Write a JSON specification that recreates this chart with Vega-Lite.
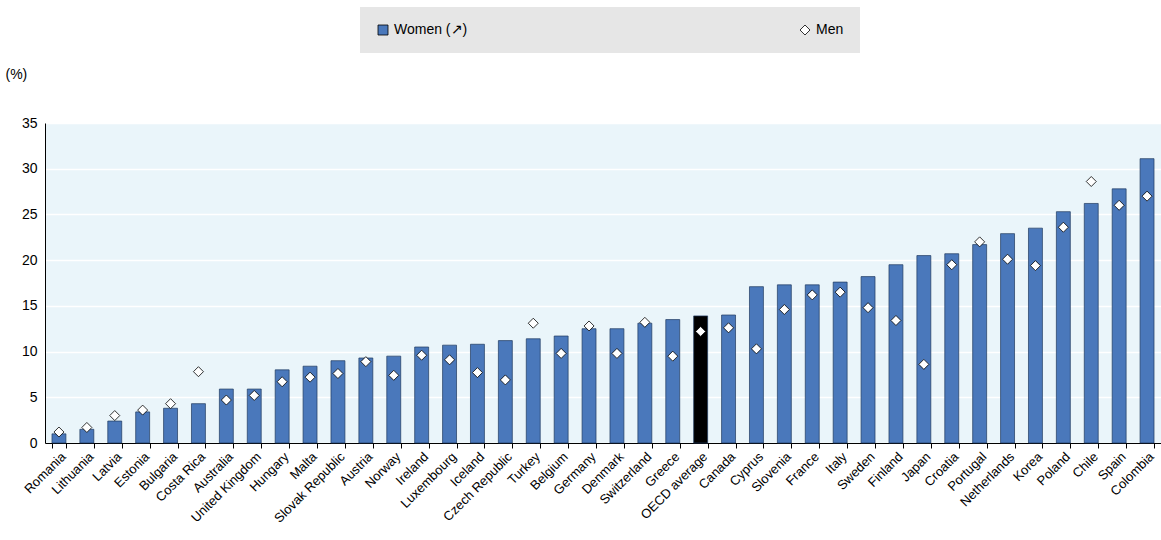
{
"$schema":"https://vega.github.io/schema/vega-lite/v6.json",
"width":1116,"height":320,
"autosize":"none",
"padding":{"left":45,"top":123,"right":0,"bottom":97},
"config":{"font":"Liberation Sans","view":{"fill":"#eaf5fa","stroke":null},
"axis":{"labelFont":"Liberation Sans","labelFontSize":13,"labelColor":"black","domainColor":"black","tickColor":"black"}},
"data":{"values":[
{"c":"Romania","w":1.0,"m":1.2},{"c":"Lithuania","w":1.5,"m":1.7},{"c":"Latvia","w":2.4,"m":3.0},{"c":"Estonia","w":3.4,"m":3.6},{"c":"Bulgaria","w":3.8,"m":4.3},{"c":"Costa Rica","w":4.3,"m":7.8},{"c":"Australia","w":5.9,"m":4.7},{"c":"United Kingdom","w":5.9,"m":5.2},{"c":"Hungary","w":8.0,"m":6.7},{"c":"Malta","w":8.4,"m":7.2},{"c":"Slovak Republic","w":9.0,"m":7.6},{"c":"Austria","w":9.3,"m":8.9},{"c":"Norway","w":9.5,"m":7.4},{"c":"Ireland","w":10.5,"m":9.6},{"c":"Luxembourg","w":10.7,"m":9.1},{"c":"Iceland","w":10.8,"m":7.7},{"c":"Czech Republic","w":11.2,"m":6.9},{"c":"Turkey","w":11.4,"m":13.1},{"c":"Belgium","w":11.7,"m":9.8},{"c":"Germany","w":12.5,"m":12.8},{"c":"Denmark","w":12.5,"m":9.8},{"c":"Switzerland","w":13.1,"m":13.2},{"c":"Greece","w":13.5,"m":9.5},{"c":"OECD average","w":13.9,"m":12.2},{"c":"Canada","w":14.0,"m":12.6},{"c":"Cyprus","w":17.1,"m":10.3},{"c":"Slovenia","w":17.3,"m":14.6},{"c":"France","w":17.3,"m":16.2},{"c":"Italy","w":17.6,"m":16.5},{"c":"Sweden","w":18.2,"m":14.8},{"c":"Finland","w":19.5,"m":13.4},{"c":"Japan","w":20.5,"m":8.6},{"c":"Croatia","w":20.7,"m":19.5},{"c":"Portugal","w":21.7,"m":22.0},{"c":"Netherlands","w":22.9,"m":20.1},{"c":"Korea","w":23.5,"m":19.4},{"c":"Poland","w":25.3,"m":23.6},{"c":"Chile","w":26.2,"m":28.6},{"c":"Spain","w":27.8,"m":26.0},{"c":"Colombia","w":31.1,"m":27.0}
]},
"encoding":{"x":{"field":"c","type":"nominal","sort":null,"title":null,"scale":{"paddingInner":0.5,"paddingOuter":0.25},"axis":{"labelAngle":-45,"labelAlign":"right","labelBaseline":"top","ticks":true,"tickBand":"extent","labelPadding":2}}},
"layer":[
{"mark":{"type":"bar","stroke":"#1f3a5f","strokeWidth":0.7},
"encoding":{"y":{"field":"w","type":"quantitative","title":"(%)","scale":{"domain":[0,35]},"axis":{"values":[0,5,10,15,20,25,30,35],"grid":true,"gridColor":"white","gridWidth":1.5,"domain":true,"ticks":false,"labelPadding":8,"labelFontSize":14,"titleAngle":0,"titleAlign":"left","titleX":-40,"titleY":-42,"titleFontWeight":"normal","titleFontSize":14,"titleFont":"Liberation Sans"}},
"color":{"condition":{"test":"datum.c==='OECD average'","value":"black"},"datum":"Women (↗)","type":"nominal",
"scale":{"domain":["Women (↗)","Men"],"range":["#4a78bb","white"]},
"legend":{"title":null,"orient":"none","legendX":315,"legendY":-116,"direction":"horizontal","columnPadding":330,"fillColor":"#e6e6e6","padding":16,"labelFontSize":14,"labelFont":"Liberation Sans","symbolSize":100,"symbolStrokeColor":"black",
"encode":{"symbols":{"update":{"shape":{"signal":"datum.value==='Men'?'diamond':'square'"},"stroke":{"value":"black"},"strokeWidth":{"value":0.8}}}}}}}},
{"mark":{"type":"point","shape":"diamond","filled":true,"stroke":"black","strokeWidth":0.8,"size":100,"opacity":1},
"encoding":{"y":{"field":"m","type":"quantitative"},"color":{"datum":"Men","type":"nominal"}}}
]
}
